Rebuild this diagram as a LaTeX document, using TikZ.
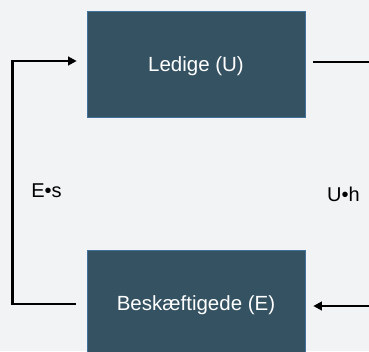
\documentclass[tikz,border=0pt]{standalone}
\usepackage{fontspec}
\setmainfont{Liberation Sans}
\usetikzlibrary{calc,arrows.meta}
\definecolor{bg}{HTML}{F2F3F5}
\definecolor{boxfill}{HTML}{355262}
\definecolor{boxline}{HTML}{41719C}
\tikzset{
	statebox/.style={draw=boxline, line width=0.6pt, fill=boxfill, text=white,
		minimum width=218pt, minimum height=106pt, inner sep=0pt,
		text height=14.7pt, text depth=0pt,
		font=\fontsize{20.5}{24}\selectfont},
	flow/.style={line width=2.8pt, line cap=rect},
	flowarrow/.style={flow, -{Triangle[length=8.5pt,width=8.5pt]}},
	rate/.style={font=\fontsize{20}{24}\selectfont, inner sep=0pt,
		text height=14.3pt, text depth=0pt}
}

\begin{document}
\begin{tikzpicture}[x=1pt,y=-1pt]
			%%%%% START %%%%%
			
			\fill[bg] (0, 0) rectangle (369, 351);
			\useasboundingbox (0, 0) rectangle (369, 351);
			\clip (0, 0) rectangle (369, 351);
			
			\node[statebox] (U) at (196, 64) {Ledige (U)};
			\node[statebox] (E) at (196, 303) {Beskæftigede (E)};
			
			% left loop, E back to U
			\coordinate (Eout) at ($(E.west)+(-12, 1)$);
			\coordinate (Uin) at ($(U.west)+(-10, -3)$);
			\draw[flowarrow] (Eout) -- ++(-62, 0) |- (Uin);
			\node[rate] (Es) at (46.5, 190) {E•s};
			
			% right side, runs off the edge
			\coordinate (Uout) at ($(U.east)+(9, -2)$);
			\coordinate (Rtop) at (380, 62);
			\draw[flow] (Uout) -- (Rtop);
			\coordinate (Rbot) at (380, 306);
			\coordinate (Ein) at ($(E.east)+(8, 3)$);
			\draw[flowarrow] (Rbot) -- (Ein);
			\node[rate] (Uh) at (343.5, 194) {U•h};
			
			%%%%% END %%%%%
		\end{tikzpicture}
\end{document}
